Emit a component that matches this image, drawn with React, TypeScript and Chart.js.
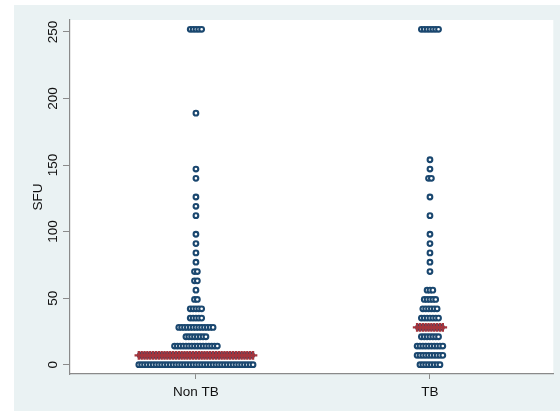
import { useEffect, useRef } from "react";
import { Chart, registerables } from "chart.js";

Chart.register(...registerables);

// Categories (x) and y-axis ticks
const categories = ["Non TB", "TB"];
const yTicks = [0, 50, 100, 150, 200, 250];

// Non TB: SFU levels and number of dots at each level
const nonTbValues = [0, 7, 14, 21, 28, 35, 42, 49, 56, 63, 70, 77, 84, 91, 98, 112, 119, 126, 140, 147, 189, 252];
const nonTbCounts = [41, 40, 16, 8, 13, 5, 5, 2, 1, 2, 2, 1, 1, 1, 1, 1, 1, 1, 1, 1, 1, 5];

// TB: SFU levels and number of dots at each level
const tbValues = [0, 7, 14, 21, 28, 35, 42, 49, 56, 70, 77, 84, 91, 98, 112, 126, 140, 147, 154, 252];
const tbCounts = [8, 10, 10, 7, 9, 7, 6, 5, 3, 1, 1, 1, 1, 1, 1, 1, 2, 1, 1, 7];

// Medians per group
const medians = [7, 28];

const DOT_STEP = 0.0122; // horizontal spacing between stacked dots (category units)

type Pt = { x: number; y: number };

function dotRows(center: number, values: number[], counts: number[]): Pt[] {
  const pts: Pt[] = [];
  values.forEach((v, i) => {
    const n = counts[i];
    for (let j = 0; j < n; j++) {
      pts.push({ x: center + (j - (n - 1) / 2) * DOT_STEP, y: v });
    }
  });
  return pts;
}

function medianRow(center: number, value: number, n: number): Pt[] {
  const pts: Pt[] = [];
  for (let j = 0; j < n; j++) {
    pts.push({ x: center + (j - (n - 1) / 2) * DOT_STEP, y: value });
  }
  return pts;
}

const FONT = { family: "'Liberation Sans', Arial, sans-serif", size: 13.5 };
const TEXT = "#111111";
const AXIS = "#8a8a8a";
const NAVY = "#1a476f";
const MAROON = "#a3343d";

const bgPlugin = {
  id: "stataBg",
  beforeDraw(chart: any) {
    const { ctx, width, height, chartArea } = chart;
    ctx.save();
    ctx.fillStyle = "#ffffff";
    ctx.fillRect(0, 0, width, height);
    ctx.fillStyle = "#eaf2f3";
    ctx.fillRect(14, 5, width - 14, height - 6);
    ctx.fillStyle = "#ffffff";
    ctx.fillRect(chartArea.left, chartArea.top, chartArea.right - chartArea.left, chartArea.bottom - chartArea.top);
    ctx.restore();
  },
};

export default function App() {
  const ref = useRef<HTMLCanvasElement | null>(null);

  useEffect(() => {
    if (!ref.current) return;
    const groups = [
      { values: nonTbValues, counts: nonTbCounts },
      { values: tbValues, counts: tbCounts },
    ];
    const dotSets = groups.map((g, i) => ({
      label: categories[i],
      order: 2,
      data: dotRows(i + 1, g.values, g.counts),
      pointStyle: "circle",
      pointRadius: 2.35,
      pointHoverRadius: 2.35,
      pointBorderWidth: 2.1,
      pointBorderColor: NAVY,
      pointBackgroundColor: "#ffffff",
      showLine: false,
    }));
    const medSets = groups.map((g, i) => ({
      label: categories[i] + " median",
      order: 1,
      data: medianRow(i + 1, medians[i], Math.max(...g.counts)),
      pointStyle: "cross",
      pointRadius: 4.3,
      pointHoverRadius: 4.3,
      pointBorderWidth: 2.4,
      pointBorderColor: MAROON,
      pointBackgroundColor: MAROON,
      showLine: false,
    }));

    const chart = new Chart(ref.current, {
      type: "scatter",
      data: { datasets: [...medSets, ...dotSets] as any },
      options: {
        animation: false,
        responsive: false,
        devicePixelRatio: 1,
        layout: { padding: { top: 20, left: 0, right: 0, bottom: 0 } },
        plugins: { legend: { display: false }, tooltip: { enabled: false } },
        scales: {
          x: {
            type: "linear",
            min: 0.4619,
            max: 2.527,
            afterBuildTicks: (s: any) => {
              s.ticks = categories.map((_, i) => ({ value: i + 1 }));
            },
            afterFit: (s: any) => {
              s.height = 38;
            },
            grid: { drawOnChartArea: false, drawTicks: true, tickLength: 5, color: AXIS, lineWidth: 1 },
            border: { display: true, color: AXIS, width: 1.2 },
            ticks: {
              autoSkip: false,
              maxRotation: 0,
              minRotation: 0,
              padding: 5,
              font: FONT,
              color: TEXT,
              callback: (v: any) => categories[Math.round(Number(v)) - 1] ?? "",
            },
          },
          y: {
            type: "linear",
            min: -7,
            max: 259,
            afterBuildTicks: (s: any) => {
              s.ticks = yTicks.map((v) => ({ value: v }));
            },
            afterFit: (s: any) => {
              s.width = 70;
            },
            grid: { drawOnChartArea: false, drawTicks: true, tickLength: 7, color: AXIS, lineWidth: 1 },
            border: { display: true, color: AXIS, width: 1.2 },
            ticks: {
              minRotation: 90,
              maxRotation: 90,
              crossAlign: "center",
              padding: -2,
              font: FONT,
              color: TEXT,
            },
            title: {
              display: true,
              text: "SFU",
              font: FONT,
              color: TEXT,
              padding: { top: 30, bottom: 0 },
            },
          },
        },
      },
      plugins: [bgPlugin],
    });
    return () => chart.destroy();
  }, []);

  return (
    <div style={{ position: "absolute", left: 0, top: 0, width: 560, height: 412 }}>
      <canvas ref={ref} width={560} height={412} style={{ width: 560, height: 412, display: "block" }} />
    </div>
  );
}
